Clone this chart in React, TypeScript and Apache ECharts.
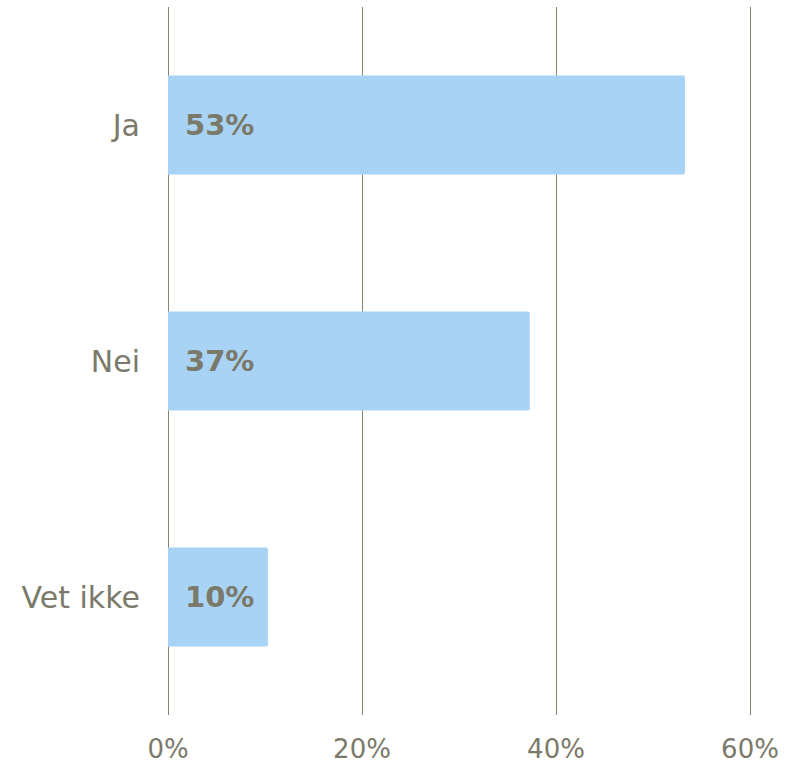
import React, { useEffect, useRef } from "react";
import * as echarts from "echarts";

const categories = ["Ja", "Nei", "Vet ikke"];
const values = [53.3, 37.3, 10.3];
const labels = ["53%", "37%", "10%"];
const xTicks = [0, 20, 40, 60];

const TEXT = "#7b7a6a";

export default function App() {
  const ref = useRef<HTMLDivElement>(null);
  useEffect(() => {
    document.body.style.margin = "0";
    const chart = echarts.init(ref.current!, null, { renderer: "svg" });
    chart.setOption({
      animation: false,
      grid: { left: 168, right: 43, top: 7, bottom: 48, containLabel: false },
      xAxis: {
        type: "value",
        min: xTicks[0],
        max: xTicks[xTicks.length - 1],
        interval: 20,
        axisLine: { show: false },
        axisTick: { show: false },
        splitLine: { show: true, lineStyle: { color: "#85846f", width: 1 } },
        axisLabel: {
          formatter: (v: number) => v + "%",
          color: TEXT,
          fontSize: 26,
          lineHeight: 26,
          fontFamily: "DejaVu Sans",
          margin: 21,
        },
      },
      yAxis: {
        type: "category",
        data: categories,
        inverse: true,
        axisLine: { show: false },
        axisTick: { show: false },
        splitLine: { show: false },
        axisLabel: {
          color: TEXT,
          fontSize: 30,
          fontFamily: "DejaVu Sans",
          margin: 28,
        },
      },
      series: [
        {
          type: "bar",
          data: values,
          barCategoryGap: "58%",
          itemStyle: { color: "#a8d3f4", borderRadius: [0, 2, 2, 0] },
          label: {
            show: true,
            position: "insideLeft",
            distance: 17,
            formatter: (p: any) => labels[p.dataIndex],
            color: TEXT,
            fontSize: 29,
            fontWeight: "bold",
            fontFamily: "DejaVu Sans",
          },
        },
      ],
    });
    return () => chart.dispose();
  }, []);
  return <div ref={ref} style={{ width: 793, height: 763 }} />;
}
